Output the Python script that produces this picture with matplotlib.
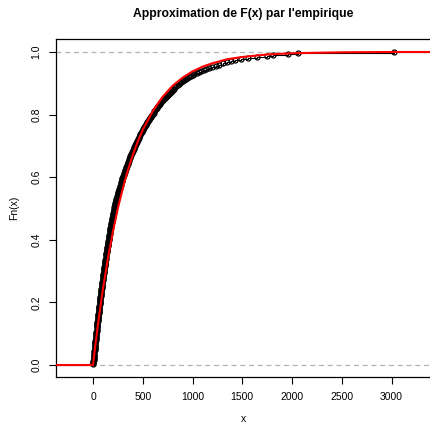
import numpy as np
import matplotlib
matplotlib.use("Agg")
import matplotlib.pyplot as plt

plt.rcParams["font.family"] = ["Liberation Sans", "DejaVu Sans"]

# echantillon (valeurs triees)
echantillon = [
    0, 2, 3, 4, 5, 6, 7, 8, 9, 10,
    11, 12, 13, 15, 16, 17, 18, 19, 20, 21,
    22, 23, 24, 26, 27, 28, 29, 30, 31, 32,
    33, 34, 36, 37, 38, 39, 40, 41, 42, 44,
    45, 46, 47, 49, 50, 51, 52, 53, 54, 56,
    57, 58, 60, 61, 62, 63, 65, 66, 67, 68,
    69, 71, 72, 73, 75, 76, 77, 78, 80, 81,
    82, 84, 85, 87, 88, 89, 91, 92, 93, 95,
    96, 98, 99, 100, 102, 103, 105, 106, 107, 109,
    110, 112, 113, 115, 116, 118, 119, 121, 122, 124,
    125, 127, 128, 130, 132, 133, 135, 136, 138, 139,
    141, 143, 144, 146, 148, 149, 151, 153, 154, 156,
    158, 159, 161, 163, 165, 166, 168, 170, 172, 173,
    175, 177, 179, 181, 183, 184, 186, 188, 190, 192,
    194, 196, 198, 200, 202, 204, 206, 208, 209, 211,
    214, 216, 219, 222, 224, 227, 230, 232, 235, 238,
    241, 244, 247, 250, 253, 255, 258, 261, 264, 267,
    271, 274, 277, 280, 283, 287, 290, 293, 296, 300,
    303, 307, 311, 314, 318, 321, 325, 328, 332, 335,
    339, 343, 347, 351, 355, 359, 363, 367, 371, 375,
    380, 384, 389, 393, 398, 402, 407, 411, 416, 420,
    425, 430, 435, 440, 445, 450, 455, 460, 466, 471,
    477, 482, 488, 494, 499, 505, 511, 516, 522, 528,
    534, 541, 547, 554, 560, 567, 573, 580, 586, 593,
    600, 608, 616, 623, 631, 639, 646, 654, 662, 670,
    678, 687, 696, 705, 714, 724, 733, 743, 754, 765,
    775, 785, 795, 806, 817, 828, 839, 851, 863, 875,
    888, 901, 915, 930, 946, 963, 981, 1000, 1020, 1043,
    1066, 1090, 1115, 1140, 1168, 1200, 1235, 1268, 1305, 1343,
    1390, 1430, 1490, 1560, 1650, 1745, 1810, 1960, 2060, 3025,
]

# courbe theorique (rouge)
x_theo = [-380, 0, 25, 50, 75, 100, 150, 200, 250, 300, 350, 400, 450, 500,
          600, 700, 800, 900, 1000, 1100, 1200, 1350, 1500, 1750, 2000,
          2500, 3000, 3500]
F_theo = [0, 0, 0.067, 0.130, 0.188, 0.243, 0.341, 0.426, 0.501, 0.565,
          0.622, 0.671, 0.714, 0.751, 0.811, 0.857, 0.892, 0.918, 0.938,
          0.953, 0.964, 0.977, 0.984, 0.992, 0.996, 0.999, 1.0, 1.0]

xticks = [0, 500, 1000, 1500, 2000, 2500, 3000]
yticks = [0.0, 0.2, 0.4, 0.6, 0.8, 1.0]

xmin, xmax = -372, 3397
ymin, ymax = -0.0383, 1.0415

x = np.sort(np.array(echantillon, dtype=float))
n = len(x)
Fn = np.arange(1, n + 1) / n

fig = plt.figure(figsize=(4.3, 4.26), dpi=100)
ax = fig.add_axes([56 / 430, 49 / 426, 375 / 430, 338 / 426])

# lignes 0 et 1
for niveau in (0, 1):
    ax.axhline(niveau, color="#b3b3b3", lw=0.9, ls=(0, (4, 3)), zorder=1)

# fonction de repartition empirique
xs = np.concatenate([[xmin], x, [xmax]])
ys = np.concatenate([[0], Fn, [1]])
ax.plot(xs, ys, drawstyle="steps-post", color="black", lw=0.8, zorder=2)
ax.plot(x, Fn, "o", ms=3.6, mfc="none", mec="black", mew=0.9, zorder=3)

# approximation
ax.plot(x_theo, F_theo, color="red", lw=1.5, zorder=4)

ax.set_xlim(xmin, xmax)
ax.set_ylim(ymin, ymax)
ax.set_xticks(xticks)
ax.set_yticks(yticks)
ax.set_xticklabels([str(v) for v in xticks])
ax.set_yticklabels(["%.1f" % v for v in yticks], rotation=90, va="center")
ax.tick_params(labelsize=7.5, length=5, width=0.8, pad=5.5)
ax.spines["right"].set_visible(False)
for s in ("left", "top", "bottom"):
    ax.spines[s].set_linewidth(0.9)

ax.set_xlabel("x", fontsize=7.5, labelpad=9)
ax.set_ylabel("Fn(x)", fontsize=7.5, labelpad=9)
ax.set_title("Approximation de F(x) par l'empirique", fontsize=8.7,
             fontweight="bold", pad=15.5)

fig.savefig("out.png", dpi=100)
